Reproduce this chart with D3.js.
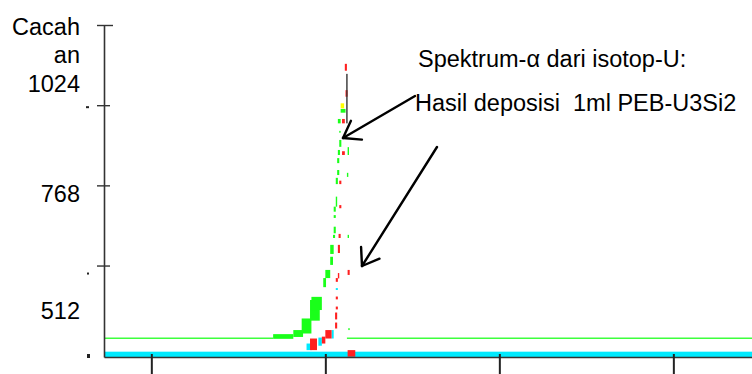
<!DOCTYPE html>
<html>
<head>
<meta charset="utf-8">
<script src="https://cdn.jsdelivr.net/npm/d3@7"></script>
<style>
  html, body { margin: 0; padding: 0; background: #fff; }
  svg { display: block; }
  text { font-family: "Liberation Sans", Arial, sans-serif; fill: #000; }
</style>
</head>
<body>
<svg id="chart" width="752" height="374"></svg>
<script>
// Alpha spectrum of U isotopes: counts per channel.
// Each entry: [channel start, channel end, count low, count high]
const cyanSegments = [
  [182, 1113, 220, 237],
  [509, 512, 279, 306],
  [490, 495, 256, 282],
  [473, 481, 242, 263],
  [481, 488, 247, 268],
  [515, 518, 434, 440]
];

const greenSegments = [
  [182, 425, 278, 282],
  [531, 1113, 278, 282],
  [425, 454, 278, 293],
  [454, 468, 284, 306],
  [466, 480, 295, 343],
  [478, 492, 336, 402],
  [480, 495, 370, 412],
  [497, 501, 443, 472],
  [500, 507, 472, 498],
  [507, 511, 514, 540],
  [507, 512, 549, 578],
  [511, 514, 600, 610],
  [512, 515, 615, 636],
  [512, 515, 664, 673],
  [512, 515, 684, 700],
  [515, 517, 700, 732],
  [515, 518, 772, 792],
  [517, 520, 801, 817],
  [517, 520, 839, 855],
  [518, 521, 865, 881],
  [520, 523, 891, 913],
  [520, 522, 936, 942],
  [518, 522, 966, 980],
  [522, 529, 1000, 1012],
  [531, 533, 795, 808],
  [532, 534, 865, 890],
  [532, 534, 600, 610],
  [533, 535, 306, 312]
];

const yellowSegments = [
  [522, 527, 1014, 1030]
];

const redSegments = [
  [528, 531, 1134, 1156],
  [529, 532, 1051, 1072],
  [524, 528, 966, 980],
  [524, 528, 865, 877],
  [520, 523, 772, 783],
  [520, 523, 695, 705],
  [519, 522, 600, 613],
  [518, 521, 552, 578],
  [518, 520, 471, 488],
  [532, 535, 482, 498],
  [515, 518, 460, 472],
  [515, 518, 404, 413],
  [515, 518, 372, 381],
  [514, 517, 340, 362],
  [514, 517, 311, 330],
  [500, 509, 279, 306],
  [495, 500, 263, 285],
  [478, 488, 242, 279],
  [532, 543, 221, 242]
];

const darkSegments = [
  [530, 532, 966, 1124]
];

const xTicks = [250, 500, 750, 1000];
const yTicks = [512, 768, 1024, 1280];
const yLabelLines = ["Cacah", "an", "1024"];
const yTickLabels = ["768", "512"];

const svg = d3.select("#chart");

const x = d3.scaleLinear().domain([182, 1113]).range([104, 752]);
const y = d3.scaleLinear().domain([220, 1280]).range([357, 25]);

// spectrum marks
function drawSegments(data, color) {
  svg.append("g")
    .selectAll("rect")
    .data(data)
    .join("rect")
    .attr("x", d => x(d[0]))
    .attr("width", d => Math.max(1, x(d[1]) - x(d[0])))
    .attr("y", d => y(d[3]))
    .attr("height", d => Math.max(1, y(d[2]) - y(d[3])))
    .attr("fill", color);
}
drawSegments(cyanSegments, "#00eaff");
drawSegments(greenSegments, "#1aff1a");
drawSegments(yellowSegments, "#ffff00");
drawSegments(redSegments, "#ff2020");
drawSegments(darkSegments, "#333333");

// x axis: unlabeled ticks hanging below the baseline
const xAxis = svg.append("g")
  .attr("transform", "translate(0,357)")
  .call(d3.axisBottom(x).tickValues(xTicks).tickSize(18).tickSizeOuter(0).tickFormat(""));
xAxis.select(".domain").attr("stroke", "#333").attr("stroke-width", 1.6);
xAxis.selectAll(".tick line").attr("y1", -3).attr("stroke", "#222").attr("stroke-width", 2);

// y axis: ticks crossing the axis line
const yAxis = svg.append("g")
  .attr("transform", "translate(104,0)")
  .call(d3.axisLeft(y).tickValues(yTicks).tickSize(7).tickSizeOuter(0).tickFormat(""));
yAxis.select(".domain").attr("stroke", "#333").attr("stroke-width", 1.6);
yAxis.selectAll(".tick line")
  .attr("x1", d => d === 1280 ? 9 : 6)
  .attr("stroke", "#333").attr("stroke-width", 1.4);

// small leftover marks beside the axis
const stubs = svg.append("g").attr("fill", "#222");
stubs.append("rect").attr("x", 86).attr("y", y(1024) + 1).attr("width", 3).attr("height", 2);
stubs.append("rect").attr("x", 87).attr("y", y(512) + 7).attr("width", 2).attr("height", 2);
stubs.append("rect").attr("x", 87).attr("y", y(220) - 3).attr("width", 3).attr("height", 4);

// axis title and value labels
const labelSize = 23.5;
const lab = svg.append("g").attr("text-anchor", "end").attr("font-size", labelSize);
yLabelLines.forEach((t, i) => {
  lab.append("text").attr("x", 80).attr("y", 35 + i * 28.3).text(t);
});
lab.append("text").attr("x", 80).attr("y", 201.5).text(yTickLabels[0]);
lab.append("text").attr("x", 80).attr("y", 319).text(yTickLabels[1]);

// annotations
const note = svg.append("g").attr("font-size", 23.5);
note.append("text").attr("x", 418).attr("y", 67).text("Spektrum-α dari isotop-U:");
note.append("text").attr("x", 415).attr("y", 111)
  .attr("xml:space", "preserve").style("white-space", "pre")
  .text("Hasil deposisi  1ml PEB-U3Si2");

// arrows with open heads
function arrow(x1, y1, x2, y2) {
  const g = svg.append("g").attr("stroke", "#000").attr("stroke-width", 2.4)
    .attr("fill", "none").attr("stroke-linecap", "round");
  g.append("line").attr("x1", x1).attr("y1", y1).attr("x2", x2).attr("y2", y2);
  const ang = Math.atan2(y1 - y2, x1 - x2);
  const len = 19, spread = Math.PI * 35 / 180;
  [ang - spread, ang + spread].forEach(a => {
    g.append("line").attr("x1", x2).attr("y1", y2)
      .attr("x2", x2 + len * Math.cos(a)).attr("y2", y2 + len * Math.sin(a));
  });
}
arrow(415, 96, 343, 138);
arrow(437, 147, 362, 266);
</script>
</body>
</html>
